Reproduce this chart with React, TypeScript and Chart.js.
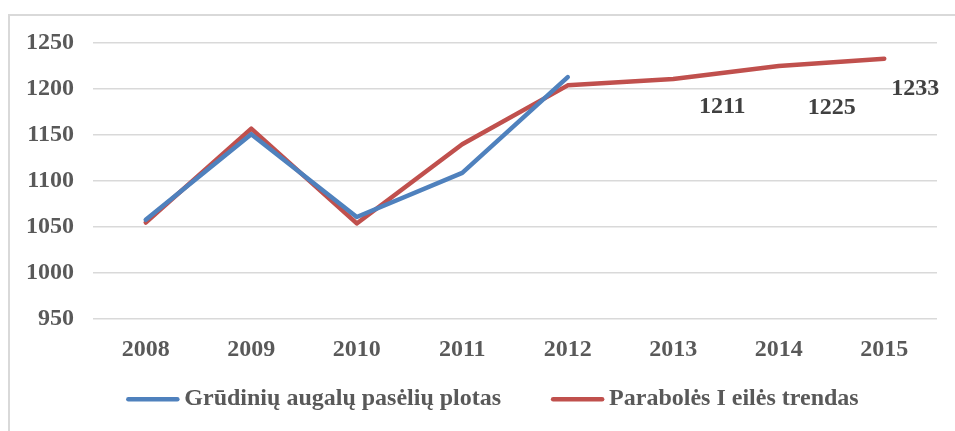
import { useEffect, useRef } from "react";
import { Chart, registerables } from "chart.js";

Chart.register(...registerables);

const categories = ["2008", "2009", "2010", "2011", "2012", "2013", "2014", "2015"];
const grudiniuPlotas = [1058, 1151, 1061, 1109, 1213, null, null, null];
const trendas = [1055, 1157, 1054, 1140, 1204, 1211, 1225, 1233];
const yTicks = [950, 1000, 1050, 1100, 1150, 1200, 1250];
const labeledTrendPoints = [5, 6, 7];
const seriesNames = ["Grūdinių augalų pasėlių plotas", "Parabolės I eilės trendas"];

const FONT = '"Liberation Serif", "Times New Roman", serif';

const valueLabelPlugin = {
  id: "valueLabels",
  afterDatasetsDraw(chart: any) {
    const ctx = chart.ctx;
    const meta = chart.getDatasetMeta(1);
    const offsets = [
      [49, 28],
      [53, 42],
      [31, 30],
    ];
    ctx.save();
    ctx.font = `bold 24px ${FONT}`;
    ctx.fillStyle = "#404040";
    ctx.textAlign = "center";
    ctx.textBaseline = "middle";
    labeledTrendPoints.forEach((idx, i) => {
      const pt = meta.data[idx];
      if (!pt) return;
      const v = chart.data.datasets[1].data[idx];
      ctx.fillText(String(v), pt.x + offsets[i][0], pt.y + offsets[i][1]);
    });
    ctx.restore();
  },
};

const legendPlugin = {
  id: "customLegend",
  afterDraw(chart: any) {
    const ctx = chart.ctx;
    ctx.save();
    ctx.font = `bold 24px ${FONT}`;
    const lineW = 53;
    const gap = 5;
    const itemGap = 50;
    const items = chart.data.datasets.map((ds: any) => ({
      text: ds.label,
      color: ds.borderColor,
      w: lineW + gap + ctx.measureText(ds.label).width,
    }));
    const total = items.reduce((s: number, it: any) => s + it.w, 0) + itemGap * (items.length - 1);
    let x = chart.width / 2 + 10 - total / 2;
    const y = chart.chartArea.bottom + 80;
    items.forEach((it: any) => {
      ctx.strokeStyle = it.color;
      ctx.lineWidth = 4.5;
      ctx.lineCap = "round";
      ctx.beginPath();
      ctx.moveTo(x + 2, y);
      ctx.lineTo(x + lineW - 2, y);
      ctx.stroke();
      ctx.fillStyle = "#595959";
      ctx.textAlign = "left";
      ctx.textBaseline = "middle";
      ctx.fillText(it.text, x + lineW + gap, y);
      x += it.w + itemGap;
    });
    ctx.restore();
  },
};

export default function App() {
  const canvasRef = useRef<HTMLCanvasElement | null>(null);

  useEffect(() => {
    if (!canvasRef.current) return;
    const chart = new Chart(canvasRef.current, {
      type: "line",
      data: {
        labels: categories,
        datasets: [
          {
            label: seriesNames[0],
            data: grudiniuPlotas,
            borderColor: "#4F81BD",
            backgroundColor: "#4F81BD",
            borderWidth: 4.5,
            pointRadius: 0,
            pointHoverRadius: 0,
            borderCapStyle: "round",
            borderJoinStyle: "round",
            tension: 0,
            spanGaps: false,
          },
          {
            label: seriesNames[1],
            data: trendas,
            borderColor: "#C0504D",
            backgroundColor: "#C0504D",
            borderWidth: 4.5,
            pointRadius: 0,
            pointHoverRadius: 0,
            borderCapStyle: "round",
            borderJoinStyle: "round",
            tension: 0,
          },
        ],
      },
      options: {
        animation: false,
        responsive: true,
        maintainAspectRatio: false,
        layout: { autoPadding: false, padding: { left: 16, right: 18, top: 27, bottom: 51 } },
        plugins: {
          legend: { display: false },
          tooltip: { enabled: false },
        },
        scales: {
          x: {
            offset: true,
            grid: { display: false, drawTicks: false },
            border: { display: false },
            ticks: {
              color: "#595959",
              font: { family: FONT, size: 24, weight: "bold" },
              padding: 16,
              maxRotation: 0,
            },
          },
          y: {
            min: 950,
            max: 1250,
            afterBuildTicks: (axis: any) => {
              axis.ticks = yTicks.map((v) => ({ value: v }));
            },
            grid: {
              color: "#d9d9d9",
              lineWidth: 1.5,
              drawTicks: true,
              tickLength: 19,
              tickColor: "rgba(0,0,0,0)",
            },
            border: { display: false },
            ticks: {
              color: "#595959",
              font: { family: FONT, size: 24, weight: "bold" },
              padding: 0,
              callback: (v: any) => String(v),
            },
          },
        },
      },
      plugins: [valueLabelPlugin, legendPlugin],
    });
    return () => chart.destroy();
  }, []);

  return (
    <div
      style={{
        position: "absolute",
        left: 8,
        top: 14,
        width: 947,
        height: 417,
        borderTop: "2px solid #d9d9d9",
        borderLeft: "2px solid #d9d9d9",
        boxSizing: "border-box",
        background: "#fff",
      }}
    >
      <div style={{ position: "relative", width: 945, height: 415 }}>
        <canvas ref={canvasRef} />
      </div>
    </div>
  );
}
